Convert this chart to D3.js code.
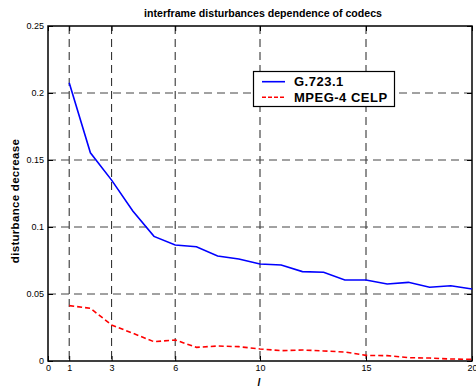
<!DOCTYPE html>
<html><head><meta charset="utf-8">
<script src="https://cdn.jsdelivr.net/npm/d3@7"></script>
<style>body{margin:0;background:#fff}svg{display:block;font-family:"Liberation Sans",Arial,sans-serif}</style>
</head><body><svg id="c" width="476" height="388"></svg>
<script>
const frames = [1,2,3,4,5,6,7,8,9,10,11,12,13,14,15,16,17,18,19,20];
const g7231 = [0.2077,0.1554,0.135,0.112,0.093,0.0866,0.0853,0.0784,0.0761,0.0724,0.0716,0.0667,0.0662,0.0604,0.0604,0.0575,0.0587,0.055,0.0562,0.0537];
const mpeg4 = [0.0413,0.0393,0.0269,0.0207,0.0144,0.0157,0.0102,0.0112,0.0107,0.009,0.0077,0.0082,0.0075,0.0067,0.0042,0.004,0.0025,0.0022,0.0015,0.0012];
const xTicks = [0,1,3,6,10,15,20];
const yTicks = [0,0.05,0.1,0.15,0.2,0.25];
const seriesNames = ["G.723.1","MPEG-4 CELP"];

const svg = d3.select("#c");
const L=48,R=472,T=26,B=361;
const x = d3.scaleLinear().domain([0,20]).range([L,R]);
const y = d3.scaleLinear().domain([0,0.25]).range([B,T]);

// grid
const grid = svg.append("g").attr("stroke","#222").attr("stroke-width",1).attr("stroke-dasharray","8,5");
xTicks.filter(d=>d>0&&d<20).forEach(d=>{
  grid.append("line").attr("x1",x(d)).attr("x2",x(d)).attr("y1",T).attr("y2",B);
});
yTicks.filter(d=>d>0&&d<0.25).forEach(d=>{
  grid.append("line").attr("x1",L).attr("x2",R).attr("y1",y(d)).attr("y2",y(d)).attr("stroke","#444");
});

// axes
const fmt = d=> d===0?"0":String(d);
const xAxis = d3.axisBottom(x).tickValues(xTicks).tickSize(-5).tickPadding(4).tickFormat(d3.format("d"));
const yAxis = d3.axisLeft(y).tickValues(yTicks).tickSize(-5).tickPadding(4).tickFormat(fmt);
const gx = svg.append("g").attr("transform",`translate(0,${B})`).call(xAxis);
const gy = svg.append("g").attr("transform",`translate(${L},0)`).call(yAxis);
const gxt = svg.append("g").attr("transform",`translate(0,${T})`).call(d3.axisTop(x).tickValues(xTicks).tickSize(-5).tickFormat(""));
const gyr = svg.append("g").attr("transform",`translate(${R},0)`).call(d3.axisRight(y).tickValues(yTicks).tickSize(-5).tickFormat(""));
[gx,gy,gxt,gyr].forEach(g=>{
  g.select(".domain").remove();
  g.selectAll("line").attr("stroke","#000");
  g.selectAll("text").attr("font-size",9).attr("fill","#000").attr("font-family","Liberation Sans,Arial,sans-serif");
});
svg.append("rect").attr("x",L).attr("y",T).attr("width",R-L).attr("height",B-T)
  .attr("fill","none").attr("stroke","#000").attr("stroke-width",1.5);

// lines
const line = d3.line().x((d,i)=>x(frames[i])).y(d=>y(d));
svg.append("path").datum(g7231).attr("d",line).attr("fill","none").attr("stroke","#0000ff").attr("stroke-width",1.6);
svg.append("path").datum(mpeg4).attr("d",line).attr("fill","none").attr("stroke","#ff0000").attr("stroke-width",1.6).attr("stroke-dasharray","5,3");

// title & labels
svg.append("text").attr("x",263).attr("y",17).attr("text-anchor","middle").attr("font-size",10.6).attr("font-weight","bold").text("interframe disturbances dependence of codecs");
svg.append("text").attr("transform","translate(19,201) rotate(-90)").attr("text-anchor","middle").attr("font-size",11.5).attr("letter-spacing",0.3).attr("font-weight","bold").text("disturbance decrease");
svg.append("text").attr("x",259).attr("y",386).attr("text-anchor","middle").attr("font-size",10).attr("font-style","italic").attr("font-weight","bold").text("l");

// legend
const lg = svg.append("g");
lg.append("rect").attr("x",253.5).attr("y",71.5).attr("width",141).attr("height",35).attr("fill","#fff").attr("stroke","#000").attr("stroke-width",1.2);
const colors=["#0000ff","#ff0000"], dashes=[null,"4,2"];
seriesNames.forEach((n,i)=>{
  const yy = 81.7 + i*15.6;
  lg.append("line").attr("x1",262).attr("x2",285).attr("y1",yy).attr("y2",yy).attr("stroke",colors[i]).attr("stroke-width",1.6).attr("stroke-dasharray",dashes[i]);
  lg.append("text").attr("x",294).attr("y",yy+4.6).attr("font-size",13).attr("letter-spacing",0.5).attr("font-weight","bold").text(n);
});
</script></body></html>
